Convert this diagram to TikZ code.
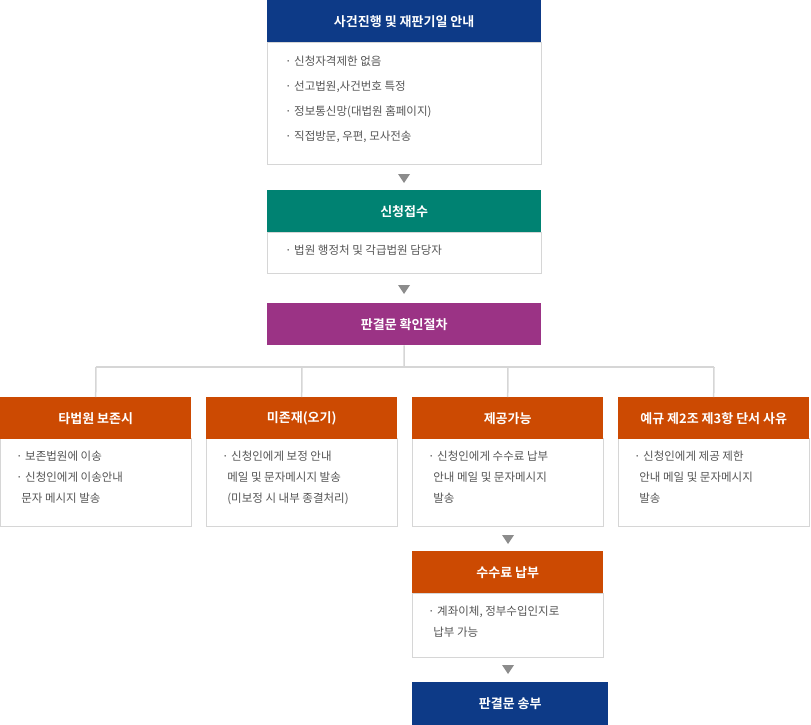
\documentclass[tikz,border=0pt]{standalone}
\usepackage{fontspec}
\setmainfont{Noto Sans CJK KR}[BoldFont={Noto Sans CJK KR Bold}]
\usetikzlibrary{positioning}
\definecolor{navy}{HTML}{0D3A87}
\definecolor{teal2}{HTML}{008272}
\definecolor{plum}{HTML}{9B3385}
\definecolor{rust}{HTML}{CC4A02}
\definecolor{edge}{HTML}{D6D6D6}
\definecolor{body}{HTML}{555555}
\definecolor{tri}{HTML}{8C8C8C}
\tikzset{
  head/.style={fill=#1,text=white,font=\bfseries\fontsize{13}{15}\selectfont,inner sep=0pt,minimum height=42pt,anchor=north west},
  box/.style={draw=edge,fill=white,inner sep=0pt,anchor=north west},
  txt/.style={text=body,font=\fontsize{11.5}{21}\selectfont,align=left,anchor=north west,inner sep=0pt},
  link/.style={draw=edge,line width=1.5pt},
}
\newcommand{\tridown}[1]{\fill[tri] ($(#1)+(-6,-4)$) -- ($(#1)+(6,-4)$) -- ($(#1)+(0,5)$) -- cycle;}
\usetikzlibrary{calc}
\begin{document}
\begin{tikzpicture}[x=1pt,y=-1pt]
\useasboundingbox (0,0) rectangle (811,725);
% top
\node[box,minimum width=274pt,minimum height=122pt] (b1) at (267,42) {};
\node[head=navy,minimum width=274pt] (h1) at (267,0) {사건진행 및 재판기일 안내};
\node[txt,font=\fontsize{11.5}{25}\selectfont] (t1) at (285,56) {· 신청자격제한 없음\\· 선고법원,사건번호 특정\\· 정보통신망(대법원 홈페이지)\\· 직접방문, 우편, 모사전송};
\coordinate (a1) at (404,178); \tridown{a1}
\node[box,minimum width=274pt,minimum height=41pt] (b2) at (267,232) {};
\node[head=teal2,minimum width=274pt] (h2) at (267,190) {신청접수};
\node[txt] (t2) at (285,245) {· 법원 행정처 및 각급법원 담당자};
\coordinate (a2) at (404,289); \tridown{a2}
\node[head=plum,minimum width=274pt] (h3) at (267,303) {판결문 확인절차};
% branches
\coordinate (j) at (404,367);
\coordinate (r1) at (96,367); \coordinate (r2) at (302,367);
\coordinate (r3) at (508,367); \coordinate (r4) at (714,367);
\draw[link] (h3.south) -- (j);
\draw[link] (r1) -- (r4);
\foreach \x/\n/\title/\body in {
  0/1/타법원 보존시/{· 보존법원에 이송\\· 신청인에게 이송안내\\\ \ 문자 메시지 발송},
  206/2/미존재(오기)/{· 신청인에게 보정 안내\\\ \ 메일 및 문자메시지 발송\\\ \ (미보정 시 내부 종결처리)},
  412/3/제공가능/{· 신청인에게 수수료 납부\\\ \ 안내 메일 및 문자메시지\\\ \ 발송},
  618/4/예규 제2조 제3항 단서 사유/{· 신청인에게 제공 제한\\\ \ 안내 메일 및 문자메시지\\\ \ 발송}}{
  \node[box,minimum width=191pt,minimum height=88pt] (c\n) at (\x,438) {};
  \node[head=rust,minimum width=191pt] (k\n) at (\x,397) {\title};
  \node[txt] (s\n) at ($(\x,451)+(16,0)$) {\body};
  \draw[link] (r\n) -- (k\n.north);
}
\coordinate (a3) at (508,539); \tridown{a3}
\node[box,minimum width=191pt,minimum height=64pt] (b5) at (412,593) {};
\node[head=rust,minimum width=191pt] (h5) at (412,551) {수수료 납부};
\node[txt] (t5) at (428,606) {· 계좌이체, 정부수입인지로\\\ \ 납부 가능};
\coordinate (a4) at (508,669); \tridown{a4}
\node[head=navy,minimum width=196pt,minimum height=43pt] (h6) at (412,682) {판결문 송부};
\end{tikzpicture}
\end{document}
